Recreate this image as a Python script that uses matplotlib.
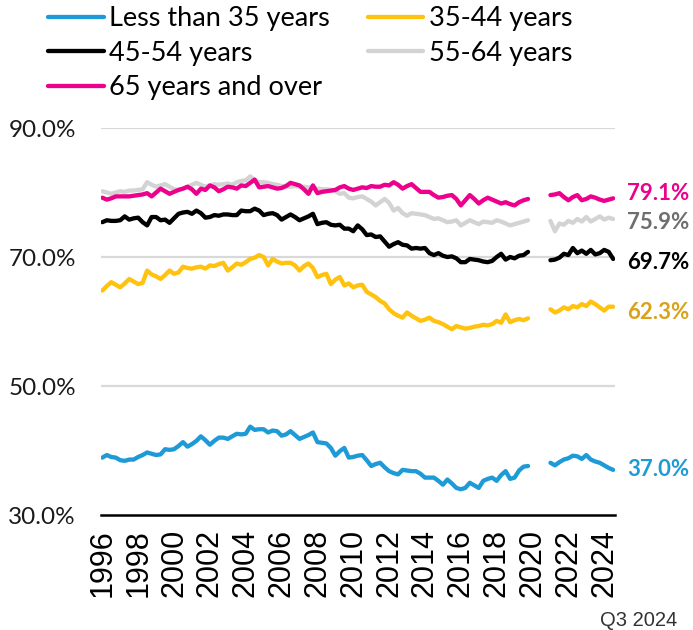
import numpy as np
import matplotlib
matplotlib.use("Agg")
import matplotlib.pyplot as plt

# Homeownership rate by age of householder, quarterly (2020 left out)
tick_years = list(range(1996, 2025, 2))
gap_2020 = [np.nan] * 4

under_35 = [38.9, 39.3, 39.0, 38.9, 38.5, 38.4, 38.6, 38.6, 39.0, 39.3, 39.7, 39.5,
            39.3, 39.4, 40.2, 40.1, 40.2, 40.7, 41.3, 40.6, 41.0, 41.5, 42.2, 41.6,
            40.9, 41.5, 42.0, 42.0, 41.8, 42.2, 42.6, 42.5, 42.6, 43.7, 43.2, 43.3,
            43.3, 42.8, 43.1, 43.0, 42.3, 42.5, 43.0, 42.4, 41.8, 42.1, 42.4, 42.8,
            41.3, 41.2, 41.1, 40.4, 39.2, 39.9, 40.4, 38.9, 39.0, 39.2, 39.3, 38.5,
            37.6, 37.9, 38.1, 37.4, 36.8, 36.5, 36.3, 37.0, 36.9, 36.8, 36.8, 36.4,
            35.8, 35.8, 35.8, 35.3, 34.7, 35.5, 34.9, 34.2, 34.0, 34.2, 35.0, 34.6,
            34.2, 35.3, 35.6, 35.8, 35.3, 36.2, 36.8, 35.6, 35.8, 36.9, 37.5, 37.6] \
    + gap_2020 + \
           [38.1, 37.7, 38.2, 38.6, 38.8, 39.2, 39.1, 38.7, 39.3, 38.6, 38.3, 38.1,
            37.7, 37.3, 37.0]

age_35_44 = [64.8, 65.5, 66.1, 65.7, 65.3, 65.9, 66.6, 66.2, 65.8, 66.0, 67.9, 67.3,
             67.0, 66.6, 67.2, 67.9, 67.4, 67.6, 68.5, 68.3, 68.2, 68.4, 68.5, 68.2,
             68.7, 68.6, 68.9, 69.1, 67.9, 68.4, 69.0, 68.8, 69.2, 69.7, 69.9, 70.3,
             70.0, 68.7, 69.7, 69.3, 69.0, 69.1, 69.1, 68.7, 67.9, 68.6, 69.0, 68.3,
             66.9, 67.2, 67.4, 65.8, 66.5, 66.9, 65.6, 65.9, 65.3, 65.6, 65.7, 64.6,
             64.2, 63.8, 63.2, 62.8, 61.9, 61.3, 60.9, 60.6, 61.4, 60.9, 60.5, 60.1,
             60.3, 60.6, 60.1, 59.9, 59.6, 59.2, 58.8, 59.3, 59.1, 58.9, 59.0, 59.2,
             59.3, 59.5, 59.4, 59.6, 60.1, 59.8, 61.1, 59.9, 60.2, 60.4, 60.2, 60.5] \
    + gap_2020 + \
            [61.9, 61.4, 61.7, 62.2, 61.9, 62.4, 62.2, 62.7, 62.4, 63.1, 62.7, 62.2,
             61.7, 62.3, 62.3]

age_45_54 = [75.4, 75.7, 75.6, 75.6, 75.7, 76.3, 75.8, 76.0, 76.1, 75.4, 74.9, 76.2,
             76.2, 75.7, 75.8, 75.3, 76.0, 76.7, 76.9, 77.0, 76.7, 77.2, 76.8, 76.1,
             76.2, 76.5, 76.4, 76.6, 76.6, 76.5, 76.5, 77.2, 77.1, 77.1, 77.5, 77.2,
             76.5, 76.7, 76.8, 76.5, 75.8, 76.2, 76.6, 76.2, 75.7, 76.0, 76.3, 76.7,
             75.1, 75.3, 75.4, 75.0, 74.9, 75.0, 74.4, 74.4, 74.0, 74.9, 74.3, 73.4,
             73.5, 73.1, 73.2, 72.4, 71.6, 72.0, 72.3, 71.9, 71.8, 71.3, 71.4, 71.3,
             71.4, 70.6, 70.3, 70.6, 70.2, 70.0, 70.1, 69.8, 69.2, 69.2, 69.7, 69.6,
             69.5, 69.3, 69.2, 69.4, 70.0, 70.5, 69.6, 70.0, 69.8, 70.2, 70.3, 70.8] \
    + gap_2020 + \
            [69.5, 69.6, 69.9, 70.5, 70.3, 71.4, 70.6, 71.0, 70.5, 71.1, 70.4, 70.6,
             71.1, 70.8, 69.7]

age_55_64 = [80.2, 80.0, 79.8, 80.0, 80.2, 80.1, 80.3, 80.3, 80.4, 80.5, 81.6, 81.2,
             80.9, 81.1, 81.3, 80.9, 80.5, 80.4, 80.6, 80.9, 81.2, 81.5, 81.2, 80.9,
             81.1, 81.3, 81.2, 81.3, 81.4, 81.2, 81.6, 81.8, 81.9, 82.5, 81.9, 81.6,
             81.6, 81.5, 81.3, 81.2, 81.0, 81.0, 80.9, 81.0, 80.9, 80.9, 80.8, 80.7,
             80.6, 80.5, 80.5, 80.4, 80.2, 79.8, 79.9, 79.2, 79.1, 79.3, 79.4, 79.0,
             78.6, 78.0, 78.5, 79.0, 78.4, 77.2, 77.6, 76.8, 76.4, 76.8, 76.7, 76.6,
             76.5, 76.2, 75.9, 76.0, 75.7, 75.4, 75.5, 75.7, 74.9, 75.3, 75.7, 75.4,
             75.1, 75.5, 75.4, 75.3, 75.7, 75.5, 75.2, 74.9, 75.1, 75.3, 75.5, 75.7] \
    + gap_2020 + \
            [75.6, 74.0, 75.2, 75.0, 75.6, 75.3, 75.9, 75.5, 76.2, 75.5, 75.9, 76.3,
             75.8, 76.1, 75.9]

age_65_over = [79.2, 78.9, 79.1, 79.4, 79.4, 79.4, 79.4, 79.5, 79.6, 79.7, 79.9, 79.4,
               80.0, 80.6, 80.2, 79.8, 80.1, 80.4, 80.6, 80.9, 80.5, 79.8, 80.6, 80.4,
               81.1, 80.8, 80.2, 80.5, 80.9, 80.8, 80.6, 81.1, 81.0, 81.5, 82.0, 80.8,
               80.9, 81.0, 80.8, 80.6, 80.7, 81.0, 81.5, 81.3, 81.1, 80.5, 79.8, 81.1,
               79.9, 80.1, 80.2, 80.3, 80.4, 80.8, 81.0, 80.6, 80.4, 80.6, 80.8, 80.7,
               81.0, 80.9, 80.9, 81.2, 81.1, 81.6, 81.2, 80.6, 81.0, 81.3, 80.7, 80.1,
               80.1, 80.1, 79.6, 79.2, 79.3, 79.5, 79.6, 79.0, 78.0, 78.8, 79.6, 79.0,
               78.3, 78.8, 79.2, 78.9, 78.6, 78.3, 78.5, 78.2, 78.0, 78.5, 78.8, 79.0] \
    + gap_2020 + \
              [79.6, 79.7, 79.9, 79.3, 78.8, 79.3, 79.6, 78.8, 79.0, 79.4, 79.2, 78.9,
               78.7, 78.9, 79.1]

names = ["Less than 35 years", "35-44 years", "45-54 years", "55-64 years",
         "65 years and over"]
series = [under_35, age_35_44, age_45_54, age_55_64, age_65_over]
line_colors = ["#1E9BD7", "#FFC20E", "#000000", "#D3D3D3", "#EC008C"]
label_colors = ["#1E9BD7", "#D9A21B", "#000000", "#6E6E6E", "#EC008C"]
label_shift = [0, -4, -2.5, -2.5, 3.5]

fig = plt.figure(figsize=(6.93, 6.30), dpi=100)
ax = fig.add_axes([0.1457, 0.1825, 0.7417, 0.6143])

n = len(under_35)
x = np.arange(n)
handles = []
for vals, name, c in zip(series, names, line_colors):
    h, = ax.plot(x, vals, color=c, lw=3.1, solid_capstyle="round",
                 solid_joinstyle="round", label=name)
    handles.append(h)

# value labels at the latest quarter
for vals, c, dy in zip(series, label_colors, label_shift):
    last = vals[-1]
    ax.annotate(f"{last:.1f}%", xy=(n - 1, last), xytext=(10, dy),
                textcoords="offset points", ha="left", va="center",
                fontsize=16, fontweight="bold", color=c, family="Lato",
                annotation_clip=False)

ax.set_xlim(-0.3, n - 0.6)
ax.set_ylim(30, 90)
ax.set_yticks([30, 50, 70, 90])
ax.set_yticklabels([f"{v:.1f}%" for v in [30, 50, 70, 90]], family="Lato",
                   fontsize=17.5, color="#1a1a1a")
tick_pos = [(yr - 1996) * 4 for yr in tick_years]
ax.set_xticks(tick_pos)
ax.set_xticklabels([str(yr) for yr in tick_years], rotation=90,
                   family="Liberation Sans", fontsize=22, va="top")
ax.tick_params(axis="both", length=0)
ax.tick_params(axis="y", pad=18)
ax.tick_params(axis="x", pad=10)

for v in [50, 70, 90]:
    ax.axhline(v, color="#D9D9D9", lw=1.6, zorder=0)
for s in ["top", "right", "left"]:
    ax.spines[s].set_visible(False)
ax.spines["bottom"].set_color("#000000")
ax.spines["bottom"].set_linewidth(1.8)

order = [0, 2, 4, 1, 3]
fig.legend([handles[i] for i in order], [names[i] for i in order],
           loc="upper left", bbox_to_anchor=(48 / 693, 1 - 6 / 630), ncol=2,
           frameon=False, borderpad=0, borderaxespad=0,
           prop={"family": "Lato", "size": 19.5},
           handlelength=2.05, handletextpad=0.2, labelspacing=0.36,
           columnspacing=1.4)

fig.text(677 / 693, 1 - 620 / 630, "Q3 2024", ha="right", va="center",
         family="Liberation Sans", fontsize=14.5, color="#333333")

fig.savefig("out.png", dpi=100)
